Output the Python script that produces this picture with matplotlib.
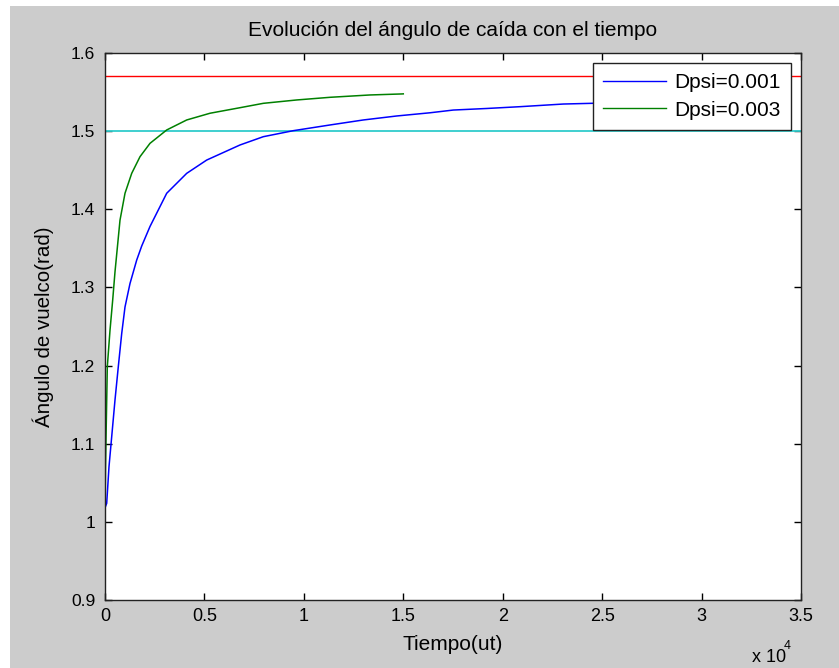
import matplotlib
matplotlib.use("Agg")
import matplotlib.pyplot as plt
from matplotlib.patches import Rectangle
from matplotlib.ticker import FixedLocator

plt.rcParams['font.family'] = ['Liberation Sans', 'DejaVu Sans']

# Flight angle vs. time for two Dpsi values (time in ut, angle in rad)
t_dpsi_001 = [0, 85, 201, 337, 503, 669, 840, 1006, 1257, 1594, 1846, 2263,
              3103, 4109, 5114, 6789, 7961, 9470, 11315, 12990, 14669,
              16344, 17516, 19195, 20870, 23048, 24476, 25000]
ang_dpsi_001 = [1.018, 1.0237, 1.0706, 1.109, 1.156, 1.1986, 1.241, 1.275,
                1.305, 1.335, 1.353, 1.378, 1.4205, 1.446, 1.463, 1.4823,
                1.4929, 1.5006, 1.5079, 1.5143, 1.5194, 1.5235, 1.527,
                1.529, 1.5313, 1.5347, 1.5356, 1.536]

t_dpsi_003 = [0, 25, 116, 251, 387, 503, 754, 1006, 1343, 1760, 2263, 3103,
              4109, 5280, 6789, 7961, 9641, 11315, 13327, 14920, 15000]
ang_dpsi_003 = [1.0, 1.07, 1.1986, 1.245, 1.2839, 1.320, 1.386, 1.4205,
                1.446, 1.4673, 1.4844, 1.5015, 1.5143, 1.5229, 1.530,
                1.5356, 1.5399, 1.5433, 1.5463, 1.5476, 1.5477]

ang_limit = 1.5708   # pi/2
ang_ref = 1.5

x_ticks = [0, 5000, 10000, 15000, 20000, 25000, 30000, 35000]
y_ticks = [0.9, 1.0, 1.1, 1.2, 1.3, 1.4, 1.5, 1.6]
x_tick_labels = ['0', '0.5', '1', '1.5', '2', '2.5', '3', '3.5']
y_tick_labels = ['0.9', '1', '1.1', '1.2', '1.3', '1.4', '1.5', '1.6']

W, H = 839, 668
fig = plt.figure(figsize=(W / 100, H / 100), dpi=100, facecolor='white')
fig.patches.append(Rectangle((10 / W, 0), 1 - 10 / W, 1 - 6 / H,
                             transform=fig.transFigure, facecolor='#cccccc',
                             edgecolor='none', zorder=-10))

ax = fig.add_axes([105 / W, 1 - 600 / H, 696 / W, 547 / H])
ax.set_facecolor('white')

ax.plot([0, 35000], [ang_limit, ang_limit], color='#ff0000', lw=1.0)
ax.plot([0, 35000], [ang_ref, ang_ref], color='#30cccc', lw=1.3)
l1, = ax.plot(t_dpsi_001, ang_dpsi_001, color='#0000ff', lw=1.1,
              label='Dpsi=0.001')
l2, = ax.plot(t_dpsi_003, ang_dpsi_003, color='#008000', lw=1.1,
              label='Dpsi=0.003')

ax.set_xlim(0, 35000)
ax.set_ylim(0.9, 1.6)
ax.xaxis.set_major_locator(FixedLocator(x_ticks))
ax.yaxis.set_major_locator(FixedLocator(y_ticks))
ax.set_xticklabels(x_tick_labels)
ax.set_yticklabels(y_tick_labels)
ax.tick_params(direction='in', length=5, width=1, top=True, right=True,
               colors='black')
ax.tick_params(axis='y', labelsize=12.5, pad=7)
ax.tick_params(axis='x', labelsize=13, pad=6)
for s in ax.spines.values():
    s.set_linewidth(1.0)
    s.set_color('#222222')

ax.set_title('Evolución del ángulo de caída con el tiempo', fontsize=15,
             pad=12)
ax.set_xlabel('Tiempo(ut)', fontsize=15, labelpad=7)
ax.set_ylabel('Ángulo de vuelco(rad)', fontsize=14.8, labelpad=12)

fig.text(752 / W, 1 - 657 / H, 'x 10', fontsize=13, ha='left',
         va='center')
fig.text(784 / W, 1 - 646 / H, '4', fontsize=9, ha='left', va='center')

leg = ax.legend(handles=[l1, l2], loc='upper right', fontsize=15,
                frameon=True, fancybox=False, framealpha=1,
                edgecolor='#222222', borderaxespad=0.48, handlelength=3.0,
                handletextpad=0.4, borderpad=0.5, labelspacing=0.4)
leg.get_frame().set_linewidth(1.0)
for h in leg.legend_handles:
    h.set_linewidth(1.0)

fig.savefig('out.png', dpi=100, facecolor=fig.get_facecolor())
